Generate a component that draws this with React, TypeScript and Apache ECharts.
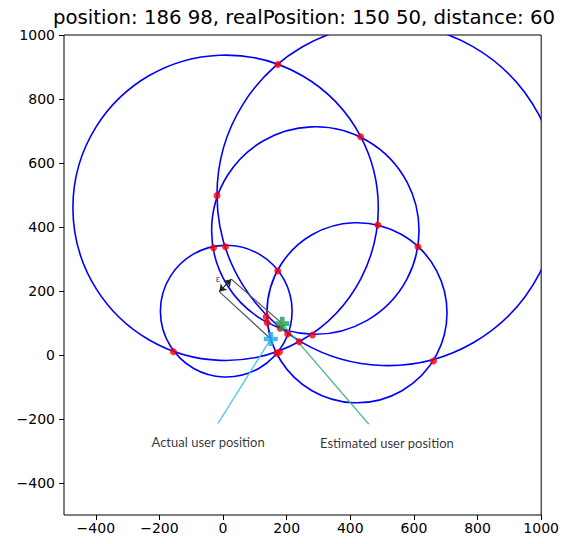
import React, { useEffect, useRef } from "react";
import * as echarts from "echarts";

// Circles (centre x, centre y, radius) in data units
const circleX = [8, 518, 290, 10, 421];
const circleY = [460, 502, 389, 137, 132];
const circleR = [480, 537, 326, 207, 283];

// Intersection points (red dots)
const pointX = [172, -19, -30, 7.5, 172, 432.5, 486.6, 612.5, -156, 135.6, 138.8, 179.4, 203, 239.7, 168.8, 177.2, 281, 661.6];
const pointY = [908, 498, 335, 338, 262.5, 682, 406, 338, 10, 119.7, 100.9, 83.4, 65.6, 41.6, 5.3, 9.4, 62.5, -18.75];

const estimated = [186, 98];
const actual = [150, 50];
const distance = 60;

// Epsilon arrow ends
const epsStart = [-12, 198];
const epsEnd = [26, 237];
const epsLabel = [-16, 236];

// Annotation texts and their anchors
const actualText = "Actual user position";
const actualTextPos = [-47, -271];
const actualLineStart = [-16, -214];
const estimatedText = "Estimated user position";
const estimatedTextPos = [515, -275];
const estimatedLineStart = [458, -216];

const tickValues = [-400, -200, 0, 200, 400, 600, 800, 1000];
const axisMin = -500;
const axisMax = 1000;

const PLUS = "path://M-1,-3L1,-3L1,-1L3,-1L3,1L1,1L1,3L-1,3L-1,1L-3,1L-3,-1L-1,-1Z";

const fmt = (v: number) => (v < 0 ? "\u2212" + Math.abs(v) : String(v));

export default function App() {
  const ref = useRef<HTMLDivElement>(null);
  useEffect(() => {
    if (!ref.current) return;
    const chart = echarts.init(ref.current, undefined, { renderer: "svg" });
    const circles = circleX.map((x, i) => [x, circleY[i], circleR[i]]);
    const points = pointX.map((x, i) => [x, pointY[i]]);
    const axisCommon = {
      type: "value",
      min: axisMin,
      max: axisMax,
      splitLine: { show: false },
      axisLine: { show: false, onZero: false },
      axisTick: {
        show: true,
        inside: false,
        length: 5,
        customValues: tickValues,
        lineStyle: { color: "#000", width: 1 },
      },
    };
    chart.setOption({
      animation: false,
      grid: {
        left: 64,
        top: 35,
        width: 480,
        height: 480,
        show: true,
        borderColor: "#000",
        borderWidth: 1,
        backgroundColor: "transparent",
      },
      xAxis: {
        ...axisCommon,
        position: "bottom",
        axisLabel: {
          customValues: tickValues,
          formatter: fmt,
          color: "#000",
          fontFamily: "DejaVu Sans",
          fontSize: 14,
          margin: 6,
        },
      },
      yAxis: {
        ...axisCommon,
        position: "left",
        axisLabel: {
          customValues: tickValues,
          formatter: fmt,
          color: "#000",
          fontFamily: "DejaVu Sans",
          fontSize: 14,
          margin: 9,
        },
      },
      graphic: [
        {
          type: "text",
          x: 304,
          y: 17,
          style: {
            text: `position: ${estimated[0]} ${estimated[1]}, realPosition: ${actual[0]} ${actual[1]}, distance: ${distance}`,
            fontFamily: "DejaVu Sans",
            fontSize: 19.7,
            fill: "#000",
            textAlign: "center",
            textVerticalAlign: "middle",
          },
        },
      ],
      series: [
        {
          type: "custom",
          coordinateSystem: "cartesian2d",
          clip: true,
          data: circles,
          silent: true,
          z: 2,
          renderItem: (params: any, api: any) => {
            const c = api.coord([api.value(0), api.value(1)]);
            const r = api.size([api.value(2), 0])[0];
            const cs = params.coordSys;
            return {
              type: "circle",
              shape: { cx: c[0], cy: c[1], r },
              style: { fill: "none", stroke: "#0000ff", lineWidth: 1.6 },
              clipPath: {
                type: "rect",
                shape: { x: cs.x, y: cs.y, width: cs.width, height: cs.height },
              },
            };
          },
        },
        {
          type: "lines",
          coordinateSystem: "cartesian2d",
          z: 3,
          silent: true,
          lineStyle: { color: "#555", width: 1.2, opacity: 1 },
          symbol: ["none", "none"],
          data: [
            { coords: [epsStart, actual] },
            { coords: [epsEnd, estimated] },
          ],
        },
        {
          type: "lines",
          coordinateSystem: "cartesian2d",
          z: 3,
          silent: true,
          lineStyle: { color: "#222", width: 1.2, opacity: 1 },
          symbol: ["arrow", "arrow"],
          symbolSize: 7,
          data: [{ coords: [epsStart, epsEnd] }],
        },
        {
          type: "lines",
          coordinateSystem: "cartesian2d",
          z: 3,
          silent: true,
          symbol: ["none", "none"],
          data: [
            { coords: [actualLineStart, actual], lineStyle: { color: "#3fc6f0", width: 1.3, opacity: 1 } },
            { coords: [estimatedLineStart, estimated], lineStyle: { color: "#3cb878", width: 1.3, opacity: 1 } },
          ],
        },
        {
          type: "scatter",
          z: 4,
          silent: true,
          symbol: "circle",
          symbolSize: 7,
          itemStyle: { color: "#ff0000" },
          data: points,
        },
        {
          type: "scatter",
          z: 5,
          silent: true,
          symbol: PLUS,
          symbolSize: 14,
          data: [
            { value: actual, itemStyle: { color: "#1ca9e6" } },
            { value: estimated, itemStyle: { color: "#17a04a" } },
          ],
        },
        {
          type: "scatter",
          z: 6,
          silent: true,
          symbolSize: 0,
          label: {
            show: true,
            position: "inside",
            formatter: (p: any) => p.value[2],
            color: "#000",
            fontFamily: "Lato",
            fontSize: 13,
          },
          data: [
            [actualTextPos[0], actualTextPos[1], actualText],
            [estimatedTextPos[0], estimatedTextPos[1], estimatedText],
            { value: [epsLabel[0], epsLabel[1], "\u03b5"], label: { fontSize: 9, fontFamily: "DejaVu Sans", color: "#222" } },
          ],
        },
      ],
    });
    return () => chart.dispose();
  }, []);
  return (
    <div
      ref={ref}
      style={{ position: "fixed", left: 0, top: 0, width: 562, height: 544, background: "#fff" }}
    />
  );
}
